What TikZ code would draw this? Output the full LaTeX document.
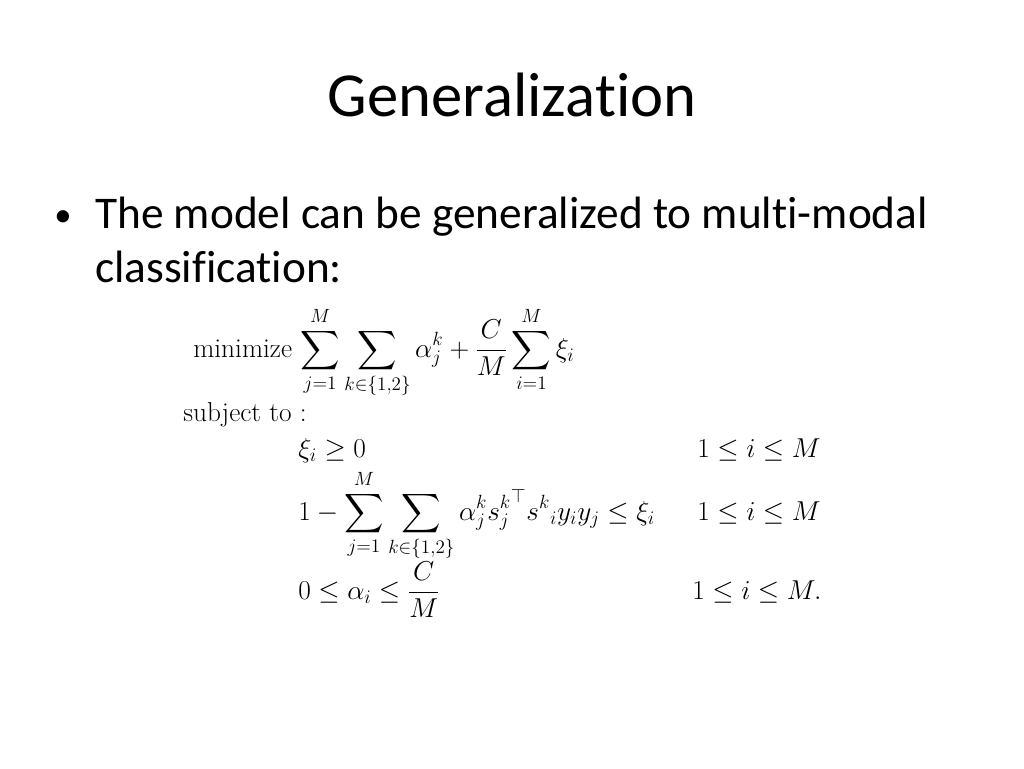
\documentclass[tikz,border=0pt]{standalone}
\usepackage{fix-cm}
\usepackage{amsmath,amssymb}
\usepackage{fontspec}
\newfontfamily\calfont[Ligatures={NoCommon}]{Carlito}
\begin{document}
\begin{tikzpicture}[x=0.75pt,y=-0.75pt,
  m/.style={anchor=base west,inner sep=0pt,font=\fontsize{20.5}{24}\selectfont},
  t/.style={anchor=base west,inner sep=0pt,font=\calfont\fontsize{34}{40}\selectfont}]
\useasboundingbox (0,0) rectangle (1024,768);
\node[anchor=base,inner sep=0pt,font=\calfont\fontsize{47}{56}\selectfont] (title) at (512,116) {Generalization};
\node[anchor=base west,inner sep=0pt,font=\calfont\fontsize{26}{30}\selectfont] (b) at (54,226) {\textbullet};
\node[t] (l1) at (95,228) {The model can be generalized to multi-modal};
\node[t] (l2) at (95,282) {classification:};
\node[m] (obj) at (193,357) {minimize $\displaystyle\sum_{j=1}^{M}\sum_{k\in\{1,2\}}\alpha_j^k+\frac{C}{M}\sum_{i=1}^{M}\xi_i$};
\node[m] (st) at (183,421) {subject to :};
\node[m] (c1) at (298,457) {$\xi_i\geq 0$};
\node[m] (r1) at (697,457) {$1\leq i\leq M$};
\node[m] (c2) at (298,520) {$\displaystyle 1-\sum_{j=1}^{M}\sum_{k\in\{1,2\}}\alpha_j^k {s_j^k}^{\top} {s^k}_i y_i y_j\leq\xi_i$};
\node[m] (r2) at (697,520) {$1\leq i\leq M$};
\node[m] (c3) at (298,599) {$\displaystyle 0\leq\alpha_i\leq\frac{C}{M}$};
\node[m] (r3) at (692,599) {$1\leq i\leq M.$};
\end{tikzpicture}
\end{document}
